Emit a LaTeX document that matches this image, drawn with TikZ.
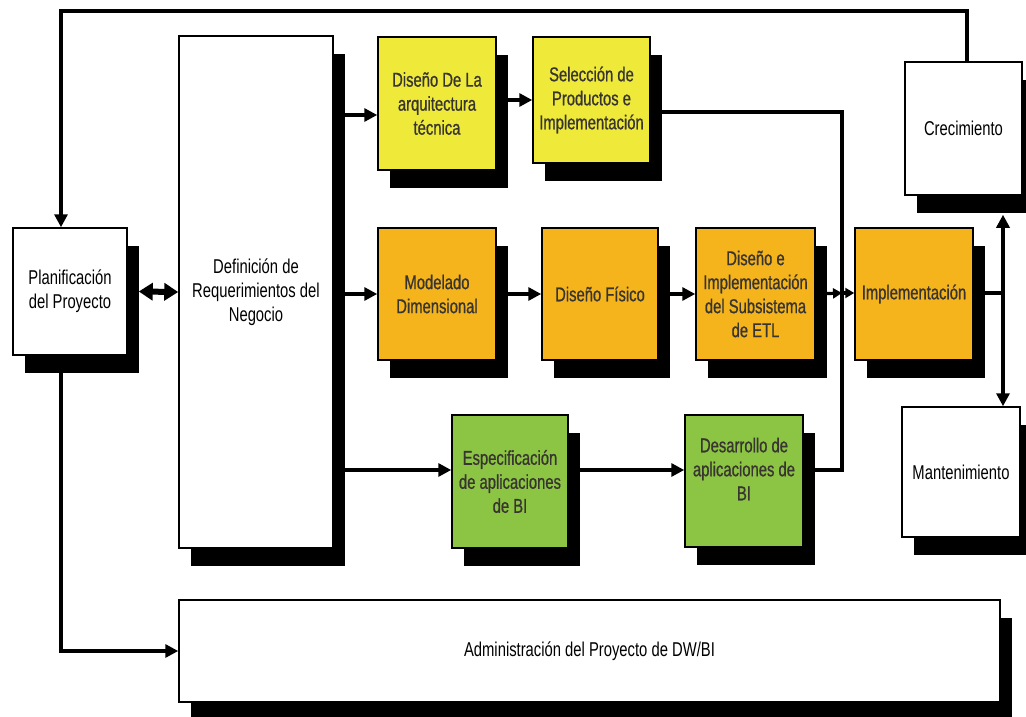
\documentclass[tikz,border=0pt]{standalone}
\usepackage{fontspec}
\setmainfont{Liberation Sans}[FakeStretch=0.74]
\newfontfamily\heavyface{Liberation Sans}[FakeStretch=0.74,FakeBold=0.8]
\usetikzlibrary{arrows.meta,shadows,backgrounds}
\definecolor{amarillo}{HTML}{EFEA3A}
\definecolor{naranja}{HTML}{F5B41C}
\definecolor{verde}{HTML}{8CC444}
\begin{document}
\begin{tikzpicture}[x=1pt,y=-1pt,
  box/.style={draw, line width=1.5pt, inner sep=0pt, align=center,
    font=\fontsize{20}{24}\selectfont,
    general shadow={fill=black, shadow xshift=12pt, shadow yshift=-18pt}},
  phase/.style={box, font=\heavyface\fontsize{20}{24}\selectfont, text=black!90!yellow},
  conn/.style={line width=3.2pt},
  arr/.style={conn, -{Triangle[length=13pt,width=13pt]}},
  arrsmall/.style={conn, -{Triangle[length=9pt,width=10pt]}},
  both/.style={conn, {Triangle[length=13pt,width=13pt]}-{Triangle[length=13pt,width=13pt]}},
]
\useasboundingbox (0,0) rectangle (1026,717);

% white boxes
\node[box, fill=white, minimum width=114pt, minimum height=127pt] (plan) at (70,291.5) {Planificación\\del Proyecto};
\node[box, fill=white, minimum width=154pt, minimum height=512pt] (def) at (256,292) {Definición de\\Requerimientos del\\Negocio};
\node[box, fill=white, minimum width=117pt, minimum height=133pt] (cre) at (963.5,128.5) {Crecimiento};
\node[box, fill=white, minimum width=118pt, minimum height=130pt] (man) at (961,472) {Mantenimiento};
\node[box, fill=white, minimum width=821pt, minimum height=102pt] (adm) at (589.5,651) {Administración del Proyecto de DW/BI};

% technology track
\node[phase, fill=amarillo, minimum width=118pt, minimum height=133pt] (arq) at (437,103.5) {Diseño De La\\arquitectura\\técnica};
\node[phase, fill=amarillo, minimum width=117pt, minimum height=126pt] (sel) at (591.5,100) {Selección de\\Productos e\\Implementación};

% data track
\node[phase, fill=naranja, minimum width=118pt, minimum height=132pt] (mod) at (437,294) {Modelado\\Dimensional};
\node[phase, fill=naranja, minimum width=116pt, minimum height=132pt] (fis) at (600,294) {Diseño Físico};
\node[phase, fill=naranja, minimum width=119pt, minimum height=132pt] (etl) at (755.5,294) {Diseño e\\Implementación\\del Subsistema\\de ETL};
\node[phase, fill=naranja, minimum width=118pt, minimum height=132pt] (imp) at (914,294) {Implementación};

% BI application track
\node[phase, fill=verde, minimum width=116pt, minimum height=133pt] (esp) at (510,481.5) {Especificación\\de aplicaciones\\de BI};
\node[phase, fill=verde, minimum width=118pt, minimum height=132pt] (des) at (744,481) {Desarrollo de\\aplicaciones de\\BI\\\mbox{}};

% junction points
\coordinate (bus) at (842,293);
\coordinate (vx) at (1003,293);
\coordinate (ain) at ([yshift=-11.5pt]arq.west);
\coordinate (ein) at ([yshift=11.5pt]esp.west);
\coordinate (selout) at ([yshift=-12pt]sel.east);
\coordinate (desout) at ([yshift=11pt]des.east);
\coordinate (crs) at ([yshift=-19pt]cre.south);

\begin{scope}[on background layer]
  \fill[white] (0,0) rectangle (1026,717);
  % feedback loop and management
  \draw[arr] ([xshift=3.5pt]cre.north) |- (61,11) -- ([xshift=-9pt]plan.north);
  \draw[arr] ([xshift=-9pt]plan.south) |- (adm.west);
  \draw[line width=6pt, {Triangle[length=14pt,width=17pt]}-{Triangle[length=14pt,width=17pt]}]
    ([xshift=11pt]plan.east) -- (def.west);
  % from requirements to the three tracks
  \draw[arr] (def.east |- ain) -- (ain);
  \draw[arr] (def.east |- mod.west) -- (mod.west);
  \draw[arr] (def.east |- ein) -- (ein);
  % technology track
  \draw[arr] (arq.east |- sel.west) -- (sel.west);
  \draw[conn] (selout) -| (bus);
  % data track
  \draw[arr] (mod.east) -- (fis.west);
  \draw[arr] (fis.east |- etl.west) -- (etl.west);
  \draw[arrsmall] (etl.east) -- (bus);
  \draw[arrsmall] (bus) -- (imp.west |- bus);
  % BI track
  \draw[arr] (esp.east |- ein) -- (des.west |- ein);
  \draw[conn] (desout) -| (bus);
  % deployment to growth and maintenance
  \draw[conn] (imp.east |- vx) -- (vx);
  \draw[both] (crs -| vx) -- (vx |- man.north);
\end{scope}
\end{tikzpicture}
\end{document}
